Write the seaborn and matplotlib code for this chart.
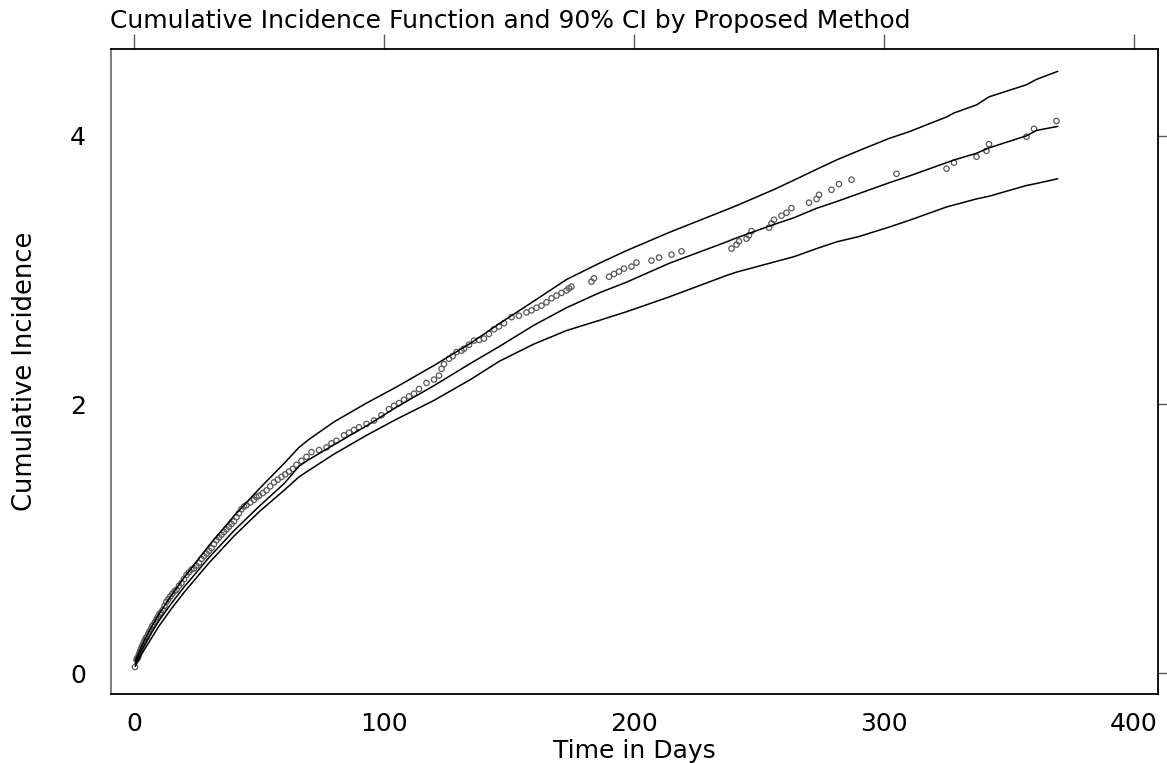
import matplotlib
matplotlib.use("Agg")
import matplotlib.pyplot as plt
import seaborn as sns

# Curves: model estimate and 90% confidence band
curve_days = [0.5, 3, 6, 10, 15, 20, 25, 30, 40, 50, 60, 66, 70, 80, 93, 105, 120,
              135, 146, 160, 173, 186, 197, 214, 237, 241, 256, 264, 273, 281, 290,
              302, 310, 325, 328, 337, 342, 357, 361, 369.5]
estimate = [0.07, 0.17, 0.27, 0.39, 0.52, 0.64, 0.75, 0.86, 1.06, 1.24, 1.41, 1.54,
            1.59, 1.70, 1.84, 1.98, 2.14, 2.31, 2.43, 2.59, 2.72, 2.83, 2.91, 3.05,
            3.21, 3.24, 3.34, 3.39, 3.46, 3.51, 3.57, 3.65, 3.70, 3.80, 3.82, 3.87,
            3.91, 4.00, 4.04, 4.07]
upper = [0.09, 0.20, 0.31, 0.44, 0.58, 0.71, 0.83, 0.95, 1.17, 1.37, 1.56, 1.68,
         1.74, 1.87, 2.01, 2.13, 2.29, 2.46, 2.60, 2.77, 2.93, 3.05, 3.145, 3.28,
         3.45, 3.48, 3.60, 3.67, 3.75, 3.82, 3.89, 3.98, 4.03, 4.14, 4.17, 4.23,
         4.29, 4.38, 4.42, 4.48]
lower = [0.05, 0.14, 0.23, 0.35, 0.48, 0.60, 0.71, 0.82, 1.02, 1.20, 1.36, 1.46,
         1.51, 1.63, 1.77, 1.89, 2.03, 2.19, 2.32, 2.45, 2.55, 2.625, 2.69, 2.80,
         2.96, 2.985, 3.06, 3.10, 3.16, 3.21, 3.25, 3.32, 3.37, 3.47, 3.485, 3.53,
         3.55, 3.63, 3.645, 3.68]

# Observed cumulative incidence points
point_days = [0.4, 1.0, 1.3, 1.7, 2.0, 2.4, 2.8, 3.2, 3.7, 4.2, 4.7, 5.2, 5.7, 6.2,
              6.8, 7.3, 7.8, 8.4, 9.0, 9.6, 10.2, 10.8, 11.5, 12.2, 12.9, 13.7, 14.5,
              15.3, 16.2, 17.0, 18.0, 19.0, 20.0, 21.0, 22.0, 23.0, 24.0, 25.0, 26.0,
              27.0, 28.0, 29.0, 30.0, 31.0, 32.0, 33.0, 34.0, 35.0, 36.0, 37.0, 38.0,
              39.0, 40.0, 41.0, 42.0, 43.0, 44.0, 45.0, 46.5, 48.0, 49.0, 50.0, 51.5,
              53.0, 54.5, 56.0, 57.5, 59.0, 60.5, 62.0, 63.5, 65.0, 67.0, 69.0, 71.0,
              74.0, 77.0, 79.0, 81.0, 84.0, 86.0, 88.0, 90.0, 93.0, 96.0, 99.0, 102.0,
              104.0, 106.0, 108.0, 110.0, 112.0, 114.0, 117.0, 120.0, 122.0, 123.0,
              124.0, 126.0, 127.5, 129.0, 131.0, 132.0, 134.0, 136.0, 138.0, 140.0,
              142.0, 144.0, 146.0, 148.0, 151.0, 154.0, 157.0, 159.0, 161.0, 163.0,
              165.0, 167.0, 169.0, 171.0, 173.0, 174.0, 175.0, 183.0, 184.0, 190.0,
              192.0, 194.0, 196.0, 199.0, 201.0, 207.0, 210.0, 215.0, 219.0, 239.0,
              241.0, 242.0, 245.0, 246.0, 247.0, 254.0, 255.0, 256.0, 259.0, 261.0,
              263.0, 270.0, 273.0, 274.0, 279.0, 282.0, 287.0, 305.0, 325.0, 328.0,
              337.0, 341.0, 342.0, 357.0, 360.0, 369.0]
point_vals = [0.045, 0.10, 0.11, 0.12, 0.14, 0.16, 0.18, 0.20, 0.22, 0.24, 0.26, 0.27,
              0.29, 0.31, 0.33, 0.35, 0.36, 0.38, 0.40, 0.42, 0.44, 0.45, 0.47, 0.50,
              0.53, 0.55, 0.57, 0.59, 0.61, 0.62, 0.65, 0.67, 0.70, 0.73, 0.75, 0.77,
              0.78, 0.80, 0.82, 0.85, 0.87, 0.89, 0.91, 0.93, 0.96, 0.99, 1.01, 1.03,
              1.05, 1.07, 1.09, 1.11, 1.13, 1.16, 1.19, 1.22, 1.24, 1.25, 1.27, 1.29,
              1.31, 1.32, 1.34, 1.36, 1.39, 1.42, 1.44, 1.46, 1.48, 1.50, 1.52, 1.55,
              1.58, 1.61, 1.645, 1.66, 1.68, 1.71, 1.73, 1.77, 1.79, 1.81, 1.83, 1.855,
              1.88, 1.92, 1.965, 1.99, 2.01, 2.035, 2.06, 2.08, 2.115, 2.16, 2.185,
              2.215, 2.265, 2.30, 2.34, 2.36, 2.39, 2.40, 2.415, 2.445, 2.475, 2.48,
              2.49, 2.525, 2.56, 2.58, 2.605, 2.65, 2.66, 2.685, 2.70, 2.72, 2.735,
              2.76, 2.79, 2.81, 2.83, 2.848, 2.865, 2.877, 2.914, 2.939, 2.951, 2.971,
              2.989, 3.011, 3.026, 3.056, 3.071, 3.093, 3.115, 3.140, 3.160, 3.190,
              3.214, 3.234, 3.259, 3.291, 3.316, 3.348, 3.375, 3.405, 3.427, 3.462,
              3.502, 3.529, 3.561, 3.598, 3.641, 3.673, 3.717, 3.755, 3.80, 3.844,
              3.888, 3.938, 3.993, 4.052, 4.11]

x_ticks = [0, 100, 200, 300, 400]
y_ticks = [0, 2, 4]

sns.set_theme(style="white")
plt.rcParams['font.family'] = ['DejaVu Sans']
plt.rcParams['text.color'] = 'black'

fig = plt.figure(figsize=(11.67, 7.63), dpi=100)
ax = fig.add_axes([0.0951, 0.0904, 0.8972, 0.845])

for band in (upper, estimate, lower):
    sns.lineplot(x=curve_days, y=band, color='black', linewidth=1.1, ax=ax)

# early points overlap heavily and look darker in the original
sns.scatterplot(x=point_days, y=point_vals, marker='o', s=15, facecolor='none',
                edgecolor='0.35', linewidth=0.9, ax=ax)

ax.set_xlim(-9.2, 409.6)
ax.set_ylim(-0.156, 4.644)
ax.set_xticks(x_ticks)
ax.set_yticks(y_ticks)
ax.tick_params(direction='out', length=11, width=1.0, color='0.35',
               top=True, right=True, labelsize=18, labelcolor='black')
ax.tick_params(axis='x', pad=2)
ax.tick_params(axis='y', pad=7)
for side, spine in ax.spines.items():
    spine.set_color('black')
    spine.set_linewidth(1.3)
ax.spines['left'].set_color('0.45')

ax.set_xlabel('Time in Days', fontsize=18, va='center', color='black')
ax.xaxis.set_label_coords(0.5, -0.088)
ax.set_ylabel('Cumulative Incidence', fontsize=18.5, va='center', color='black')
ax.yaxis.set_label_coords(-0.082, 0.5)
fig.text(0.094, 0.973, 'Cumulative Incidence Function and 90% CI by Proposed Method',
         ha='left', va='center', fontsize=18, color='black')

fig.savefig('out.png', dpi=100)
